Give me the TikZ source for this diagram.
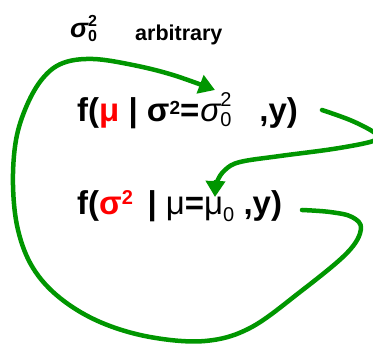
\documentclass[tikz,border=0pt]{standalone}
\usepackage{fontspec}
\setmainfont{Liberation Sans}
\usetikzlibrary{arrows.meta}
\definecolor{arrowgreen}{RGB}{0,150,0}
\definecolor{varred}{RGB}{255,0,0}
\newcommand{\fsz}[1]{\fontsize{#1}{#1}\selectfont}
% size, lower, raise, sub, sup
\newcommand{\subsupx}[5]{{\upshape\fsz{#1}\makebox[0pt][l]{\raisebox{-#2}{#4}}\raisebox{#3}{#5}}}
\tikzset{
  formula/.style={inner sep=0pt, anchor=base west, font=\fsz{33}\bfseries},
  loopline/.style={draw=arrowgreen, line width=4.5pt, line cap=round, line join=round,
    -{Triangle[length=16pt,width=19pt]}},
}
\begin{document}
\begin{tikzpicture}[x=1pt,y=-1pt]
\useasboundingbox (0,0) rectangle (373,344);
\node[inner sep=0pt, anchor=base west, font=\bfseries] (sig0) at (70,38)
  {{\fsz{27}\itshape σ}\subsupx{16}{4pt}{11pt}{0}{2}};
\node[inner sep=0pt, anchor=base west, font=\fsz{21.5}\bfseries] (arb) at (135,41) {arbitrary};
\node[formula] (l1) at (77,122)
  {f(\textcolor{varred}{μ} | σ\raisebox{7pt}{\fsz{19}2}=\hspace{1pt}{\mdseries\itshape σ}{\mdseries\subsupx{20}{5pt}{15pt}{0}{2}}\hspace{28pt},y)};
\node[formula] (l2) at (77,215)
  {f(\textcolor{varred}{σ\raisebox{10pt}{\fsz{20}2}}\, | {\mdseries μ}={\mdseries μ}\raisebox{-7pt}{\fsz{20}\mdseries 0} ,y)};
\coordinate (a1s) at (302,210);
\coordinate (a1e) at (215,90);
\coordinate (a2s) at (322,110);
\coordinate (a2e) at (215,197);
\draw[loopline] plot[smooth, tension=0.6] coordinates {(a1s) (330,212) (352,217) (361,229) (347,253) (300,292) (250,328) (205,341) (150,337) (100,322) (60,298) (33,268) (18,230) (13,185) (16,140) (27,105) (43,78) (63,63) (93,59) (133,65) (173,75) (a1e)};
\draw[loopline] plot[smooth, tension=0.6] coordinates {(a2s) (350,120) (372,131) (377,137) (370,142) (333,149) (280,156) (240,162) (225,170) (217,182) (a2e)};
\end{tikzpicture}
\end{document}
